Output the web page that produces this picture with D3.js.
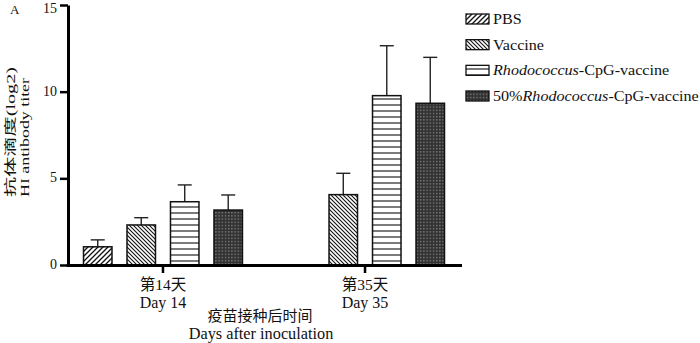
<!DOCTYPE html>
<html>
<head>
<meta charset="utf-8">
<script src="https://cdn.jsdelivr.net/npm/d3@7"></script>
<style>
  html, body { margin: 0; padding: 0; background: #fff; }
  svg { display: block; }
  text { font-family: "Liberation Serif", "Times New Roman", "Noto Sans CJK SC", serif; fill: #111; }
</style>
</head>
<body>
<svg id="chart" width="700" height="343"></svg>
<script>
const days = ["Day 14", "Day 35"];
const dayLabelsCN = ["第14天", "第35天"];
const seriesNames = ["PBS", "Vaccine", "Rhodococcus-CpG-vaccine", "50%Rhodococcus-CpG-vaccine"];
const seriesKeys = ["pbs", "vac", "rho", "rho50"];
const meanDay14 = [1.05, 2.31, 3.65, 3.17];
const errDay14  = [0.40, 0.42, 0.97, 0.87];
const meanDay35 = [null, 4.06, 9.77, 9.33];
const errDay35  = [null, 1.23, 2.88, 2.65];
const yTicks = [0, 5, 10, 15];

const svg = d3.select("#chart");
const defs = svg.append("defs");

// patterns
const pPBS = defs.append("pattern").attr("id", "pat-pbs").attr("patternUnits", "userSpaceOnUse")
  .attr("width", 5).attr("height", 5);
pPBS.append("rect").attr("width", 5).attr("height", 5).attr("fill", "#fff");
pPBS.append("path").attr("d", "M0,5 L5,0 M-1,1 L1,-1 M4,6 L6,4").attr("stroke", "#111").attr("stroke-width", 1.3);

const pVac = defs.append("pattern").attr("id", "pat-vac").attr("patternUnits", "userSpaceOnUse")
  .attr("width", 4).attr("height", 4);
pVac.append("rect").attr("width", 4).attr("height", 4).attr("fill", "#fff");
pVac.append("path").attr("d", "M0,0 L4,4 M-1,3 L1,5 M3,-1 L5,1").attr("stroke", "#111").attr("stroke-width", 1.1);

const pRho = defs.append("pattern").attr("id", "pat-rho").attr("patternUnits", "userSpaceOnUse")
  .attr("width", 6).attr("height", 6);
pRho.append("rect").attr("width", 6).attr("height", 6).attr("fill", "#fff");
pRho.append("path").attr("d", "M0,3 L6,3").attr("stroke", "#222").attr("stroke-width", 1.2);

const pR50 = defs.append("pattern").attr("id", "pat-rho50").attr("patternUnits", "userSpaceOnUse")
  .attr("width", 3.2).attr("height", 3.2);
pR50.append("rect").attr("width", 3.2).attr("height", 3.2).attr("fill", "#333");
pR50.append("rect").attr("x", 1).attr("y", 1).attr("width", 1).attr("height", 1).attr("fill", "#bbb");

const fills = { pbs: "url(#pat-pbs)", vac: "url(#pat-vac)", rho: "url(#pat-rho)", rho50: "url(#pat-rho50)" };

// scales
const y = d3.scaleLinear().domain([0, 15]).range([265, 5]);
const x0 = d3.scaleBand().domain(days).range([76, 452]).paddingInner(0.139).paddingOuter(0);
const x1 = d3.scaleBand().domain(seriesKeys).range([0, x0.bandwidth()]).paddingInner(0.345).paddingOuter(0.1725);
const legY = d3.scalePoint().domain(seriesKeys).range([24, 101]);

const data = [];
days.forEach((d, di) => {
  const means = di === 0 ? meanDay14 : meanDay35;
  const errs = di === 0 ? errDay14 : errDay35;
  seriesKeys.forEach((k, si) => {
    if (means[si] != null) data.push({ day: d, key: k, mean: means[si], err: errs[si] });
  });
});

// error bars (behind bars)
const eb = svg.append("g");
data.forEach(d => {
  const cx = x0(d.day) + x1(d.key) + x1.bandwidth() / 2;
  eb.append("line").attr("x1", cx).attr("x2", cx).attr("y1", y(d.mean)).attr("y2", y(d.mean + d.err))
    .attr("stroke", "#222").attr("stroke-width", 1.4);
  eb.append("line").attr("x1", cx - 7).attr("x2", cx + 7).attr("y1", y(d.mean + d.err)).attr("y2", y(d.mean + d.err))
    .attr("stroke", "#222").attr("stroke-width", 1.4);
});

// bars
svg.append("g").selectAll("rect").data(data).join("rect")
  .attr("x", d => x0(d.day) + x1(d.key))
  .attr("y", d => y(d.mean))
  .attr("width", x1.bandwidth())
  .attr("height", d => y(0) - y(d.mean))
  .attr("fill", d => fills[d.key])
  .attr("stroke", "#111").attr("stroke-width", 1.5);

// y axis
const yAxis = svg.append("g").attr("transform", "translate(68,0)")
  .call(d3.axisLeft(y).tickValues(yTicks).tickSize(8).tickSizeOuter(0).tickPadding(3));
yAxis.select(".domain").attr("stroke", "#000").attr("stroke-width", 3);
yAxis.selectAll(".tick line").attr("stroke", "#000").attr("stroke-width", 2.5);
yAxis.selectAll(".tick text").attr("font-size", 14).attr("font-family", "Liberation Serif").attr("fill", "#111")
  .attr("dy", d => d === 15 ? "0.5em" : "0.25em");

// x axis
const xAxisLine = d3.scaleLinear().domain([0, 1]).range([66.5, 462]);
svg.append("line").attr("x1", xAxisLine(0)).attr("x2", xAxisLine(1)).attr("y1", 265.5).attr("y2", 265.5)
  .attr("stroke", "#000").attr("stroke-width", 3);
const xt = svg.append("g");
days.forEach((d, i) => {
  const cx = x0(d) + x0.bandwidth() / 2;
  xt.append("line").attr("x1", cx).attr("x2", cx).attr("y1", 265).attr("y2", 273)
    .attr("stroke", "#000").attr("stroke-width", 2.5);
  xt.append("text").attr("x", cx).attr("y", 290).attr("text-anchor", "middle").attr("font-size", 15.5).text(dayLabelsCN[i]);
  xt.append("text").attr("x", cx).attr("y", 308).attr("text-anchor", "middle").attr("font-size", 16).text(d);
});

svg.append("text").attr("x", 260).attr("y", 321).attr("text-anchor", "middle").attr("font-size", 15).text("疫苗接种后时间");
svg.append("text").attr("x", 261).attr("y", 339).attr("text-anchor", "middle").attr("font-size", 16.3).text("Days after inoculation");

// y title
svg.append("text").attr("transform", "translate(15,197) rotate(-90)").attr("font-size", 12.5)
  .attr("textLength", 130).attr("lengthAdjust", "spacingAndGlyphs").text("抗体滴度(log2)");
svg.append("text").attr("transform", "translate(29,197) rotate(-90)").attr("font-size", 13)
  .attr("textLength", 119).attr("lengthAdjust", "spacingAndGlyphs").text("HI antibody titer");

// panel letter
svg.append("text").attr("x", 10).attr("y", 14).attr("font-size", 13).text("A");

// legend
const leg = svg.append("g").attr("transform", "translate(466,0)");
seriesKeys.forEach((k, i) => {
  const by = legY(k);
  leg.append("rect").attr("x", 0).attr("y", by - 10).attr("width", 23).attr("height", 10)
    .attr("fill", fills[k]).attr("stroke", "#111").attr("stroke-width", 1.3);
  const t = leg.append("text").attr("transform", `translate(27,${by}) scale(1.04,1)`).attr("font-size", 15.5);
  if (k === "rho") {
    t.append("tspan").attr("font-style", "italic").text("Rhodococcus");
    t.append("tspan").text("-CpG-vaccine");
  } else if (k === "rho50") {
    t.append("tspan").text("50%");
    t.append("tspan").attr("font-style", "italic").text("Rhodococcus");
    t.append("tspan").text("-CpG-vaccine");
  } else {
    t.text(seriesNames[i]);
  }
});
</script>
</body>
</html>
